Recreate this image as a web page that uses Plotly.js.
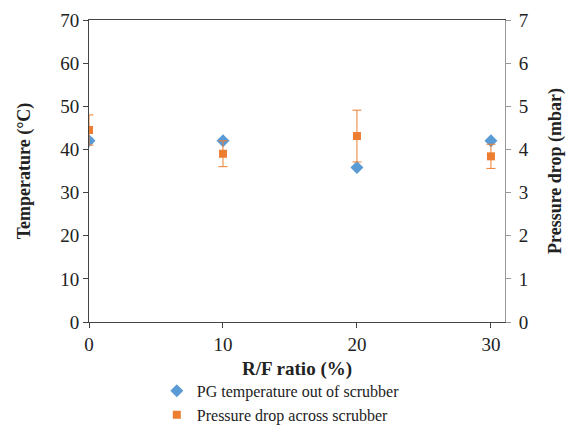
<!DOCTYPE html>
<html><head><meta charset="utf-8">
<script src="https://cdn.plot.ly/plotly-3.0.1.min.js"></script>
<style>html,body{margin:0;padding:0;background:#fff}#chart{width:566px;height:427px}</style>
</head><body><div id="chart"></div>
<script>
const rfRatio = [0, 10, 20, 30];
const temperature = [42.0, 42.0, 35.8, 42.0];
const temperatureErr = [0.6, 0, 0, 0];
const pressureDrop = [4.45, 3.9, 4.31, 3.84];
const pressureErr = [0.35, 0.3, 0.6, 0.28];
const xTicks = [0, 10, 20, 30];

const font = 'Liberation Serif';
const txt = '#222';
const traces = [
  {x: rfRatio, y: temperature, type: 'scatter', mode: 'markers',
   name: 'PG temperature out of scrubber',
   marker: {symbol: 'diamond', size: 10, color: '#5B9BD5'},
   error_y: {type: 'data', array: temperatureErr, visible: true, color: '#5B9BD5', thickness: 1, width: 4},
   yaxis: 'y'},
  {x: rfRatio, y: pressureDrop, type: 'scatter', mode: 'markers',
   name: 'Pressure drop across scrubber',
   marker: {symbol: 'square', size: 8, color: '#ED7D31'},
   error_y: {type: 'data', array: pressureErr, visible: true, color: '#ED7D31', thickness: 1, width: 4.5},
   yaxis: 'y2'}
];
const layout = {
  width: 566, height: 427,
  margin: {l: 89, r: 61, t: 20, b: 105, autoexpand: false},
  paper_bgcolor: '#fff', plot_bgcolor: '#fff',
  font: {family: font, size: 19, color: txt},
  showlegend: true,
  legend: {x: 0.163, y: -0.172, xanchor: 'left', yanchor: 'top', orientation: 'v',
           font: {family: font, size: 16, color: txt}, bgcolor: 'rgba(0,0,0,0)', itemwidth: 30, tracegroupgap: 0},
  xaxis: {range: [0, 31.05], tickvals: xTicks, ticks: 'outside', ticklen: 5, tickcolor: '#444',
          showline: true, linecolor: '#444', linewidth: 1, mirror: true, showgrid: false, zeroline: false,
          tickfont: {family: font, size: 19, color: txt},
          title: {text: '<b>R/F ratio (%)</b>', font: {family: font, size: 19, color: txt}, standoff: 7}},
  yaxis: {range: [0, 70], dtick: 10, ticks: 'outside', ticklen: 5, tickcolor: '#444',
          showline: true, linecolor: '#444', linewidth: 1, showgrid: false, zeroline: false,
          tickfont: {family: font, size: 19, color: txt},
          title: {text: '<b>Temperature (°C)</b>', font: {family: font, size: 18, color: txt}, standoff: 24}},
  yaxis2: {range: [0, 7], dtick: 1, overlaying: 'y', side: 'right', ticks: 'outside', ticklen: 5, tickcolor: '#999',
           showline: true, linecolor: '#999', linewidth: 1, showgrid: false, zeroline: false,
           ticklabelstandoff: 4,
           tickfont: {family: font, size: 19, color: txt},
           title: {text: '<b>Pressure drop (mbar)</b>', font: {family: font, size: 18, color: txt}, standoff: 22}}
};
Plotly.newPlot('chart', traces, layout, {displayModeBar: false, staticPlot: true});
</script></body></html>
